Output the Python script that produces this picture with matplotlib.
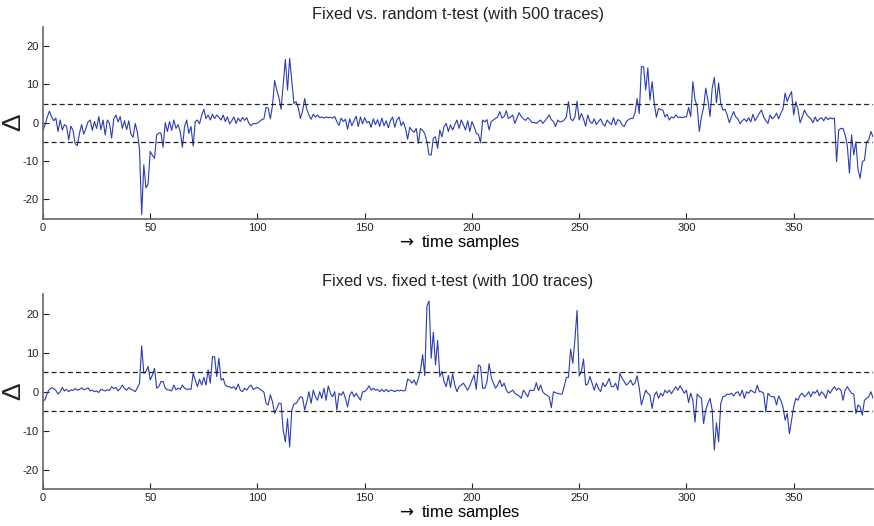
import numpy as np
import matplotlib
matplotlib.use('Agg')
import matplotlib.pyplot as plt

# t-statistic per time sample
random_500 = [
    -2, -0.5, 1.5, 3, 1.5, 0.5, 1.2, -2.3, 0.7, -1.9,
    -0.5, -1, -4.5, -0.9, -2, -5.5, -6, -2.8, -0.5, -3,
    -1.5, 0.2, 0.7, -2, 0.3, -1.5, 1.6, -1.8, 0.7, -3.2,
    0.7, -0.2, -4, 1, 2, 0.2, 1.6, -1.5, 0.5, -1.8,
    0.5, -3, -3.8, -0.2, -2.5, -7, -24, -11, -17, -16,
    -7.5, -8.5, -9.3, -3.2, -2.7, -2.7, -6.4, 0, -2.3, 0.3,
    -2, 0.7, -1.5, -0.5, -2.4, -6.4, -1, 0.7, -2.8, -1,
    -6.1, 0.3, 0.7, -0.3, 2, 3.5, 1.1, 2, 0.7, 2.2,
    1.1, 2, 1.4, 0.7, 2, 0.3, 1.5, -0.3, 0.5, 1.5,
    -0.2, 1.2, 0.3, 1.4, 0.6, 1.3, -0.2, -0.8, -0.2, -0.3,
    -0.1, 0.3, 0.8, 1, 4, 3.8, 1, 4.5, 11, 8.5,
    6.5, 3.5, 10, 16.5, 8.5, 16.8, 11, 5, 5.5, 4,
    1.1, 3, 6.3, 3.5, 2, 0.9, 2.2, 1.5, 2, 1.3,
    1.5, 1.2, 1.5, 1.3, 1.4, 1.2, 1.6, 0.3, -0.7, 1.2,
    0.3, 0.9, -1.7, 1, -0.8, 0.5, 1.7, -1, 1.5, -0.3,
    1.3, 0, 0.3, -1.2, 1, -0.5, 0.8, -1, 1.2, -0.8,
    0.5, -1.3, 0.5, 1.5, -1.2, 0.7, 1.5, -0.8, 0.2, -1.5,
    -4.3, -1.2, -2, -2.5, -1.5, -5.4, -1.5, -2, -2.8, -5,
    -8.4, -8.4, -4, -3.7, -6.7, -1.9, -3.7, -1, -0.2, -2.3,
    -0.6, -1.9, -0.5, 0.7, -1.5, 0.7, -0.5, -1.9, 0.5, -2.3,
    0.3, -1, -2.8, -3, -5.2, 0.7, 0.2, 0.8, -1.9, 0.3,
    0.7, 1.1, 1.5, 2.9, 1.2, 1.6, 3.1, 1.1, 1.5, 2,
    -0.2, 1.2, 2.6, 1.6, 1, 0.6, 1.3, 0.8, 0, 0.1,
    -0.2, 0.3, 0.7, -0.2, 0.5, 1.2, 2, 0.8, 0.3, -1,
    0.7, 0.2, 0.3, 0.7, 1.5, 5.5, 1, 0.5, 1.5, 5.6,
    0.7, 2.4, 1, -0.9, 2, 0.3, -0.2, 1, -0.5, 0.3,
    1, -0.3, -0.9, 0.7, 0, -0.5, 1.3, -0.6, 0.8, 0.5,
    -0.6, -1, 0.3, 0.8, 1.1, 1.1, 2.5, 6.3, 2.4, 14.6,
    14.6, 8.5, 14.3, 5.9, 10.7, 5, 1.4, 3.7, 3.4, 3.3,
    1.5, 2.2, 0.7, 1.5, 1.2, 2, 1.4, 1.5, 1.3, 1.5,
    1.5, 4, 1.6, 10.7, 6, 4.2, -2.3, 1.5, 4, 9,
    5.9, 1.6, 9, 11.8, 5.2, 10.4, 5, 3.3, 3.5, 2,
    0, 1.5, 2.9, 1.5, 1, -0.3, 0.5, 1, 0.3, 1.3,
    0.2, 2.2, 0.5, 1.5, 2.5, 3.3, 1.5, 0.5, -0.2, 2,
    1, 1.5, 2.5, 1, 2.5, 3.5, 7.7, 5.5, 7, 8.1,
    2, 5.5, 3.5, 0, 1.5, 3.3, 2.2, 1.5, 1, 0,
    1.5, 0.3, 1, 1.3, 0.5, 1.5, 0.8, 1.3, 1, 1.2,
    -10.2, -1.9, -1.5, -1.5, -3.2, -6, -13.2, -3.2, -8.4, -5,
    -12.3, -14.5, -10.2, -9.8, -5, -4.5, -2.3, -3.7,
]

fixed_100 = [
    -2.5, -2, -0.3, 0.6, 1, 0.8, 0.3, -0.6, 0, 1.1,
    0.2, 0.6, 0, 0.5, 0.3, 0.8, 0.4, 0.6, 1, 0.5,
    0.7, 1, 0.2, 0.4, 0, 0.2, -0.2, 0.6, 0.4, 0.2,
    0.5, 0.3, 1.3, 0.8, 1.1, 0.2, 0.8, 1.7, 0.8, 0.4,
    1.1, 0.6, 0.4, 0, 1, 2.2, 11.8, 4.7, 5.2, 6.5,
    3, 4.3, 6, 0.9, 1.3, 2.6, 2.6, 0.9, 0.5, 0.4,
    0.2, 1.7, 0.5, 0.9, 0.6, 1.7, 0.9, 0.6, 0.7, 0.6,
    4.7, 3, 1.3, 3.2, 1.7, 3.7, 1.7, 5.6, 2.2, 9,
    9, 3.9, 8.6, 3, 3.4, 1.7, 1.3, 1.3, 0.9, 1.3,
    0.5, 2, 0.4, 0, 0.9, 0.4, 1.2, 1.7, 0.6, 0.9,
    1.1, 0.7, 0.3, -0.1, -3, -3.4, -0.8, -2.6, -5.6, -4.3,
    -3, -3, -9.9, -12.9, -6.9, -14.2, -4.7, -3.2, -3, -2.2,
    -1.3, -1.5, -4.7, -2.6, 0, -3, 0.4, -1.3, -2.2, 0,
    -1.7, 0.9, -2.2, 1.5, -0.4, -1.3, 0, -4.7, -0.4, -0.9,
    0, -1.7, -3.9, -0.9, 0, -1.3, -0.4, -1.3, -2.2, 0,
    0, 0.6, 1.5, 0.4, 0.9, 0.4, 0.6, 0, 0.6, 0,
    0.6, 0, 0.4, 0.3, 0, 0.4, 0.2, 0.4, 0.2, 0.4,
    3.2, 3, 2.2, 3, 1.7, 3.4, 5.6, 9.5, 4.1, 22,
    23.3, 8.6, 15.3, 6.9, 13.2, 3.9, 5.2, 2.6, 1.3, 4.2,
    1.1, 4.6, 1.7, 0, 1.3, 1.7, 2.2, 1.3, 0.4, 1.5,
    3, 4.3, 0.6, 6.9, 6.5, 0.9, 0.9, 2.5, 7.2, 3.7,
    2.2, 0.9, 1.7, 3, 1.3, 2.2, 0.4, -0.3, 0, 0.4,
    -0.4, -0.8, -1.1, -1.7, 0.4, -0.4, -1.3, 0.4, 0.3, 0.4,
    2.3, 0.3, 1.7, 0, -0.6, -0.9, -1.3, -4.1, 0, -0.3,
    -0.4, -0.6, -0.6, 1.3, 3.7, 3.7, 10.9, 7.3, 13.4, 20.9,
    4, 5.2, 8.4, 1.7, 2, 3.9, 2.2, 0.4, 2.2, 0.8,
    0, 2.3, 1.3, 2.2, 3.4, 1.3, 1.3, 2.2, 0.4, 4.7,
    3.4, 2.6, 1.7, 2.2, 3, 1.7, 2.2, 4.1, 0.9, -3.4,
    -1.5, 0.4, -0.4, -0.9, -4.3, -1.1, 0, -1.7, -0.4, -1.1,
    0.4, -0.3, 0.4, -0.5, 0.4, 1.3, 0.4, 1.5, 0.6, -0.4,
    0.4, -2.8, -0.4, -2.2, -7.8, -0.6, -1.3, -1.7, -8.2, -4.7,
    -3, -1.7, -4.7, -15, -8, -12.9, -3, -1.3, -1.1, -0.6,
    -0.7, -0.4, -1.1, -0.3, 0, -1.1, 0.4, -1.7, 0, -0.4,
    0.4, 0, -0.3, 1.7, 0, 0, -0.4, -5.2, -0.4, -1.1,
    -1.3, -1.3, -3.4, -1.1, -2.2, -3.9, -7.3, -5.6, -10.8, -7.3,
    -3.9, -1.7, -2.2, -0.9, -0.4, -1.3, -0.9, 0, -1.3, 0,
    -0.4, 0.4, -1.1, 0, -0.6, -1.7, 0.4, -0.4, 0.6, 1.3,
    0.4, 0.9, 0.5, -2.2, 0.4, 1.3, 0.4, -0.4, -0.6, -5.6,
    -3.4, -3.9, -6, -2.2, -1.7, -1.3, 0, -1.7,
]

titles = ['Fixed vs. random t-test (with 500 traces)',
          'Fixed vs. fixed t-test (with 100 traces)']
threshold = 5
xticks = [0, 50, 100, 150, 200, 250, 300, 350]
yticks = [-20, -10, 0, 10, 20]

plt.rcParams['font.family'] = ['Liberation Sans', 'DejaVu Sans']
plt.rcParams['axes.unicode_minus'] = False

fig = plt.figure(figsize=(8.74, 5.26), dpi=100)
ax1 = fig.add_axes([0.0492, 0.5846, 0.9497, 0.3643])
ax2 = fig.add_axes([0.0492, 0.0703, 0.9497, 0.3700])

for ax, data, title in zip([ax1, ax2], [random_500, fixed_100], titles):
    x = np.arange(len(data))
    ax.plot(x, data, color='#2a3db0', lw=0.8)
    ax.axhline(threshold, color='#222222', ls=(0, (4, 2.5)), lw=0.9)
    ax.axhline(-threshold, color='#222222', ls=(0, (4, 2.5)), lw=0.9)
    ax.set_xlim(0, len(data) - 1)
    ax.set_ylim(-25, 25)
    ax.set_xticks(xticks)
    ax.set_yticks(yticks)
    ax.tick_params(direction='in', length=4, width=0.8, labelsize=8,
                   colors='#222222', pad=3)
    for s in ['top', 'right']:
        ax.spines[s].set_visible(False)
    for s in ['left', 'bottom']:
        ax.spines[s].set_color('#666666')
        ax.spines[s].set_linewidth(1.2)
    ax.set_title(title, fontsize=11.8, color='#222222', pad=6)
    ax.set_xlabel(r'$\rightarrow$ time samples', fontsize=12, labelpad=0)
    ax.set_ylabel('Δ', fontsize=19, color='#222222', va='center')
    ax.yaxis.set_label_coords(-0.036, 0.5)

plt.savefig('out.png', dpi=100)
